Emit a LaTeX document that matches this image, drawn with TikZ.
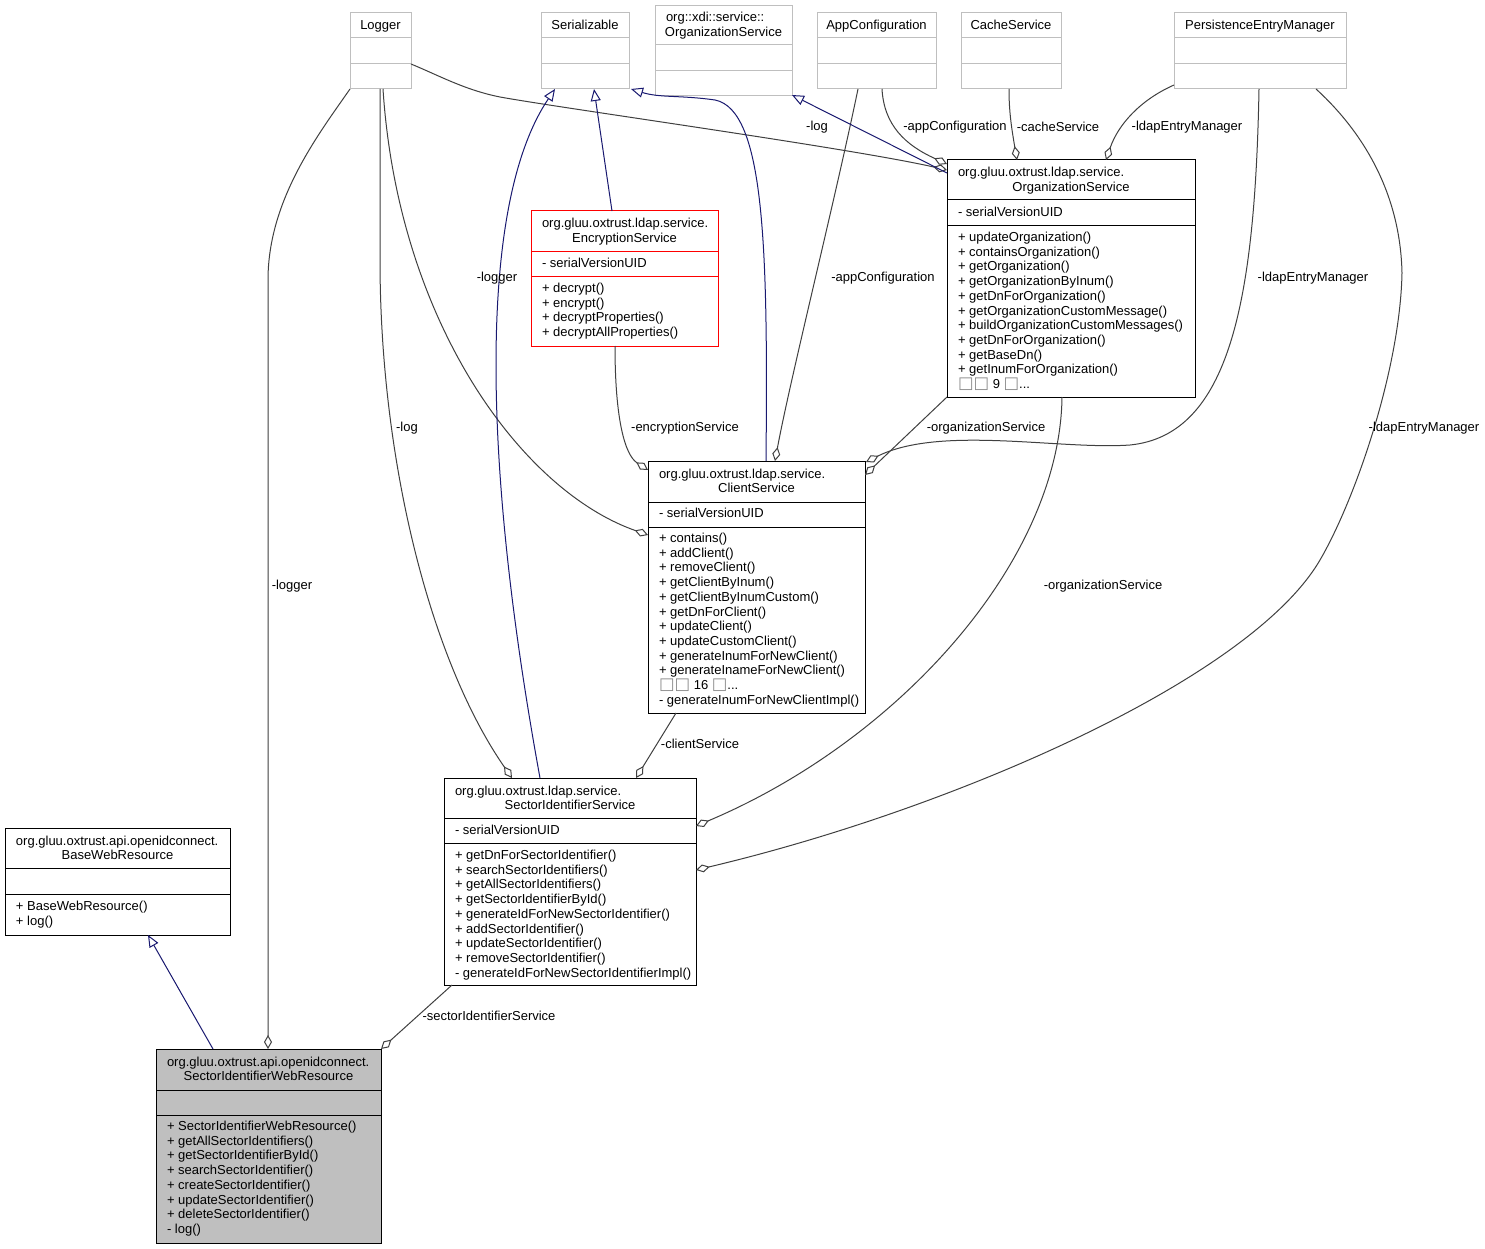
\documentclass[tikz,border=0pt]{standalone}
\usepackage{fontspec}
\setmainfont{Liberation Sans}
\newfontfamily\dejavu{DejaVu Sans}
\usetikzlibrary{arrows.meta,calc}
\definecolor{edgegray}{HTML}{404040}
\definecolor{ext}{HTML}{BFBFBF}
\definecolor{inh}{HTML}{191970}
\definecolor{tofugray}{HTML}{8C8C8C}
\newcommand\tofu{{\fontsize{16.5}{14.7}\dejavu\color{tofugray}□}}
\newcommand\threedots{.{}.{}.}
\tikzset{
  txt/.style={font=\fontsize{13}{14.7}\selectfont, inner sep=0pt, outer sep=0pt, text=black},
  lbl/.style={txt, anchor=center},
  assoc/.style={draw=edgegray, line width=1pt, arrows={Diamond[fill=white,length=14pt,width=8pt]-}},
  inhe/.style={draw=inh, line width=1pt, arrows={-Triangle[fill=white,length=12pt,width=10pt]}},
}
% #1 name, #2 node opts, #3 divider colour, #4 x, #5 y, #6 w, #7 h, #8 div1, #9 div2
\newcommand\cls[9]{%
  \node[#2, minimum width=#6pt, minimum height=#7pt, anchor=north west, inner sep=0pt, outer sep=0pt, line width=1pt] (#1) at (#4,#5) {};
  \draw[draw=#3, line width=1pt] ($(#1.north west)+(0,#8)$) -- ++(#6,0);
  \draw[draw=#3, line width=1pt] ($(#1.north west)+(0,#9)$) -- ++(#6,0);
}
\newcommand\mlines[4]{\foreach \mtext [count=\i] in {#4} {\node[txt, anchor=base west] (#1\i) at (#2,{#3+(\i-1)*14.7}) {\mtext};}}
\begin{document}
\begin{tikzpicture}[x=1pt,y=-1pt]
\useasboundingbox[fill=white] (0,0) rectangle (1485,1249);

% ---------- top row ----------
\cls{logger}{draw=ext,fill=white}{ext}{350}{13}{61}{76}{25}{51}
\node[txt,anchor=base] (loggerT) at (380.5,29.5) {Logger};
\cls{ser}{draw=ext,fill=white}{ext}{541}{13}{88}{76}{25}{51}
\node[txt,anchor=base] (serT) at (585,29.5) {Serializable};
\cls{xdi}{draw=ext,fill=white}{ext}{655}{6}{137}{90}{39}{65}
\node[txt,anchor=base west] (xdiT1) at (666,21.5) {org::xdi::service::};
\node[txt,anchor=base] (xdiT2) at (723.5,36.2) {OrganizationService};
\cls{app}{draw=ext,fill=white}{ext}{817}{13}{119}{76}{25}{51}
\node[txt,anchor=base] (appT) at (876.5,29.5) {AppConfiguration};
\cls{cache}{draw=ext,fill=white}{ext}{961}{13}{100}{76}{25}{51}
\node[txt,anchor=base] (cacheT) at (1011,29.5) {CacheService};
\cls{pem}{draw=ext,fill=white}{ext}{1174}{13}{172}{76}{25}{51}
\node[txt,anchor=base] (pemT) at (1260,29.5) {PersistenceEntryManager};

% ---------- OrganizationService ----------
\cls{org}{draw=black,fill=white}{black}{947}{160}{248}{237}{40}{66}
\node[txt,anchor=base west] (orgT1) at (958,177) {org.gluu.oxtrust.ldap.service.};
\node[txt,anchor=base] (orgT2) at (1071,191.7) {OrganizationService};
\node[txt,anchor=base west] (orgA) at (958,216.5) {- serialVersionUID};
\mlines{orgm}{958}{241.5}{{+ updateOrganization()},{+ containsOrganization()},{+ getOrganization()},{+ getOrganizationByInum()},{+ getDnForOrganization()},{+ getOrganizationCustomMessage()},{+ buildOrganizationCustomMessages()},{+ getDnForOrganization()},{+ getBaseDn()},{+ getInumForOrganization()},{\tofu\tofu{} 9 \tofu\threedots}}

% ---------- EncryptionService ----------
\cls{enc}{draw=red,fill=white}{red}{531}{211}{187}{135}{41}{66}
\node[txt,anchor=base west] (encT1) at (542,228) {org.gluu.oxtrust.ldap.service.};
\node[txt,anchor=base] (encT2) at (624.5,242.7) {EncryptionService};
\node[txt,anchor=base west] (encA) at (542,267.5) {- serialVersionUID};
\mlines{encm}{542}{292.5}{{+ decrypt()},{+ encrypt()},{+ decryptProperties()},{+ decryptAllProperties()}}

% ---------- ClientService ----------
\cls{cli}{draw=black,fill=white}{black}{648}{461}{217}{252}{41}{66}
\node[txt,anchor=base west] (cliT1) at (659,478) {org.gluu.oxtrust.ldap.service.};
\node[txt,anchor=base] (cliT2) at (756.5,492.7) {ClientService};
\node[txt,anchor=base west] (cliA) at (659,517.5) {- serialVersionUID};
\mlines{clim}{659}{542.5}{{+ contains()},{+ addClient()},{+ removeClient()},{+ getClientByInum()},{+ getClientByInumCustom()},{+ getDnForClient()},{+ updateClient()},{+ updateCustomClient()},{+ generateInumForNewClient()},{+ generateInameForNewClient()},{\tofu\tofu{} 16 \tofu\threedots},{- generateInumForNewClientImpl()}}

% ---------- SectorIdentifierService ----------
\cls{sis}{draw=black,fill=white}{black}{444}{778}{252}{207}{40}{65}
\node[txt,anchor=base west] (sisT1) at (455,795) {org.gluu.oxtrust.ldap.service.};
\node[txt,anchor=base] (sisT2) at (570,809.7) {SectorIdentifierService};
\node[txt,anchor=base west] (sisA) at (455,834.5) {- serialVersionUID};
\mlines{sism}{455}{859.5}{{+ getDnForSectorIdentifier()},{+ searchSectorIdentifiers()},{+ getAllSectorIdentifiers()},{+ getSectorIdentifierById()},{+ generateIdForNewSectorIdentifier()},{+ addSectorIdentifier()},{+ updateSectorIdentifier()},{+ removeSectorIdentifier()},{- generateIdForNewSectorIdentifierImpl()}}

% ---------- BaseWebResource ----------
\cls{base}{draw=black,fill=white}{black}{5}{828}{225}{107}{40}{66}
\node[txt,anchor=base west] (baseT1) at (16,845) {org.gluu.oxtrust.api.openidconnect.};
\node[txt,anchor=base] (baseT2) at (117.5,859.7) {BaseWebResource};
\mlines{basem}{16}{910.5}{{+ BaseWebResource()},{+ log()}}

% ---------- SectorIdentifierWebResource ----------
\cls{siwr}{draw=black,fill=ext}{black}{156}{1049}{225}{194}{41}{66}
\node[txt,anchor=base west] (siwrT1) at (167,1066) {org.gluu.oxtrust.api.openidconnect.};
\node[txt,anchor=base] (siwrT2) at (268.5,1080.7) {SectorIdentifierWebResource};
\mlines{siwrm}{167}{1130.5}{{+ SectorIdentifierWebResource()},{+ getAllSectorIdentifiers()},{+ getSectorIdentifierById()},{+ searchSectorIdentifier()},{+ createSectorIdentifier()},{+ updateSectorIdentifier()},{+ deleteSectorIdentifier()},{- log()}}

% ---------- associations ----------
\draw[assoc] ($(siwr.north west)+(112,0)$) -- (268,280) .. controls (268,200) and (318,135) .. (logger.south west);
\draw[assoc] ($(sis.north west)+(68,0)$) .. controls (430,660) and (380,460) .. (380,260) -- ($(logger.south west)+(30,0)$);
\draw[assoc] ($(cli.north west)+(0,74)$) .. controls (520,490) and (398,320) .. ($(logger.south west)+(33,0)$);
\draw[assoc] ($(org.north west)+(0,10)$) .. controls (850,148) and (560,108) .. (500,97) .. controls (465,90) and (440,76) .. ($(logger.north east)+(0,51)$);
\draw[assoc] ($(org.north west)+(0,4)$) .. controls (905,145) and (884,125) .. ($(app.south west)+(65,0)$);
\draw[assoc] ($(cli.north west)+(127,0)$) .. controls (790,380) and (835,200) .. ($(app.south west)+(41,0)$);
\draw[assoc] ($(org.north west)+(70,0)$) .. controls (1011,125) and (1009,110) .. ($(cache.south west)+(48,0)$);
\draw[assoc] ($(org.north west)+(159,0)$) .. controls (1118,125) and (1140,100) .. ($(pem.south west)+(0,-4)$);
\draw[assoc] ($(cli.north east)+(1,1)$) .. controls (940,425) and (1060,450) .. (1130,445) .. controls (1230,435) and (1255,300) .. ($(pem.south west)+(85,0)$);
\draw[assoc] ($(cli.north east)+(0,14)$) -- (org.south west);
\draw[assoc] ($(sis.north east)+(0,92)$) .. controls (950,810) and (1250,680) .. (1320,560) .. controls (1355,500) and (1400,370) .. (1402,273) .. controls (1400,180) and (1350,120) .. ($(pem.south west)+(142,0)$);
\draw[assoc] ($(sis.north east)+(0,48)$) .. controls (900,740) and (1060,560) .. ($(org.south west)+(115,0)$);
\draw[assoc] ($(cli.north west)+(0,9)$) .. controls (625,455) and (615,420) .. ($(enc.south west)+(84,0)$);
\draw[assoc] ($(sis.north west)+(192,0)$) -- ($(cli.south west)+(28,0)$);
\draw[assoc] (siwr.north east) -- ($(sis.south west)+(8,0)$);

% ---------- inheritance ----------
\draw[inhe] ($(sis.north west)+(96,0)$) .. controls (480,450) and (480,200) .. ($(ser.south west)+(14,0)$);
\draw[inhe] ($(enc.north west)+(81,0)$) -- ($(ser.south west)+(53,0)$);
\draw[inhe] ($(cli.north west)+(118,0)$) .. controls (768,250) and (765,110) .. (715,100) .. controls (680,95) and (660,98) .. ($(ser.south east)+(2,0)$);
\draw[inhe] ($(org.north west)+(0,13)$) -- ($(xdi.south east)+(0,-1)$);
\draw[inhe] ($(siwr.north west)+(57,0)$) -- ($(base.south west)+(143,0)$);

% ---------- labels ----------
\node[lbl] (L1) at (292,586) {-logger};
\node[lbl] (L2) at (407,428) {-log};
\node[lbl] (L3) at (497,278) {-logger};
\node[lbl] (L4) at (817,127) {-log};
\node[lbl] (L5) at (955,127) {-appConfiguration};
\node[lbl] (L6) at (1058,127) {-cacheService};
\node[lbl] (L7) at (1187,127) {-ldapEntryManager};
\node[lbl] (L8) at (883,278) {-appConfiguration};
\node[lbl] (L9) at (1313,278) {-ldapEntryManager};
\node[lbl] (L10) at (685,428) {-encryptionService};
\node[lbl] (L11) at (986,428) {-organizationService};
\node[lbl] (L12) at (1424,428) {-ldapEntryManager};
\node[lbl] (L13) at (1103,586) {-organizationService};
\node[lbl] (L14) at (700,744) {-clientService};
\node[lbl] (L15) at (489,1016) {-sectorIdentifierService};
\end{tikzpicture}
\end{document}
